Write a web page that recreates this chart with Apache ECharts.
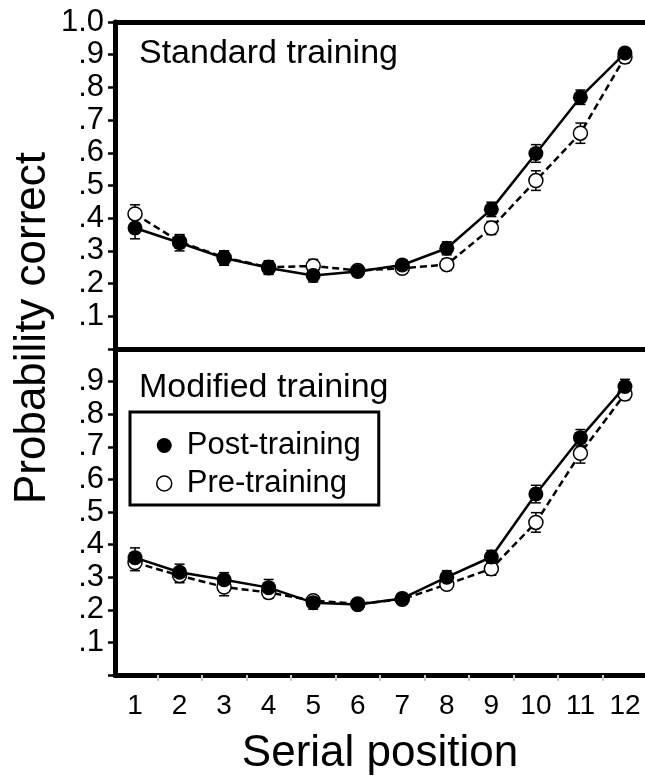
<!DOCTYPE html>
<html>
<head>
<meta charset="utf-8">
<script src="https://cdn.jsdelivr.net/npm/echarts@6/dist/echarts.min.js"></script>
<style>html,body{margin:0;padding:0;background:#fff;}#c{width:645px;height:781px;}</style>
</head>
<body>
<div id="c"></div>
<script>
const positions = [1,2,3,4,5,6,7,8,9,10,11,12];
const xHalfTicks = [1.5,2.5,3.5,4.5,5.5,6.5,7.5,8.5,9.5,10.5,11.5];
const yTickLabelsTop = ['', '.1', '.2', '.3', '.4', '.5', '.6', '.7', '.8', '.9', '1.0'];
const yTickLabelsBottom = ['', '.1', '.2', '.3', '.4', '.5', '.6', '.7', '.8', '.9', ''];

// Standard training
const stdPost    = [0.370,0.325,0.278,0.248,0.225,0.237,0.257,0.308,0.427,0.598,0.770,0.905];
const stdPostErr = [0.033,0.025,0.022,0.020,0.020,0.015,0.015,0.020,0.022,0.027,0.022,0.015];
const stdPre     = [0.413,0.328,0.280,0.250,0.254,0.240,0.247,0.258,0.370,0.515,0.660,0.893];
const stdPreErr  = [0.028,0.020,0.020,0.020,0.020,0.015,0.015,0.018,0.020,0.030,0.031,0.018];

// Modified training
const modPost    = [0.360,0.315,0.292,0.268,0.222,0.216,0.235,0.300,0.362,0.555,0.728,0.885];
const modPostErr = [0.030,0.025,0.022,0.025,0.020,0.015,0.015,0.020,0.020,0.027,0.025,0.022];
const modPre     = [0.345,0.305,0.270,0.253,0.228,0.218,0.232,0.278,0.326,0.468,0.680,0.862];
const modPreErr  = [0.025,0.022,0.027,0.018,0.015,0.012,0.012,0.015,0.020,0.030,0.030,0.018];

const FONT = "'Liberation Sans', Arial, Helvetica, sans-serif";

function pts(vals){ return vals.map((v,i)=>[positions[i], v]); }
function errs(vals, e){ return vals.map((v,i)=>[positions[i], v, e[i]]); }

function errorRender(params, api){
  const x = api.value(0), y = api.value(1), e = api.value(2);
  const t = api.coord([x, y + e]);
  const b = api.coord([x, y - e]);
  const w = 5;
  const st = {stroke:'#000', lineWidth:1.5};
  return {type:'group', children:[
    {type:'line', shape:{x1:t[0], y1:t[1], x2:b[0], y2:b[1]}, style:st},
    {type:'line', shape:{x1:t[0]-w, y1:t[1], x2:t[0]+w, y2:t[1]}, style:st},
    {type:'line', shape:{x1:b[0]-w, y1:b[1], x2:b[0]+w, y2:b[1]}, style:st}
  ]};
}

function yAxisFor(idx, labels){
  return {
    type:'value', gridIndex:idx, min:0, max:1, interval:0.1,
    axisLine:{show:true, onZero:false, lineStyle:{color:'#000', width:5}},
    axisTick:{show:true, length:7, lineStyle:{color:'#000', width:2.5}},
    splitLine:{show:false},
    axisLabel:{
      margin:11, color:'#000', fontSize:31, fontFamily:FONT,
      showMinLabel:true, showMaxLabel:true,
      formatter:function(v){ const k = Math.round(v*10); return labels[k] !== undefined ? labels[k] : ''; }
    }
  };
}

function borderAxis(idx, pos){
  return {type:'value', gridIndex:idx, position:pos, min:0.55, max:12.45,
    axisLine:{show:true, onZero:false, lineStyle:{color:'#000', width:5}},
    axisTick:{show:false}, axisLabel:{show:false}, splitLine:{show:false}};
}

const lineSeries = function(name, data, xi, yi, dashed, filled){
  return {
    name:name, type:'line', xAxisIndex:xi, yAxisIndex:yi, data:data,
    symbol:'circle', symbolSize: filled ? 15 : 14,
    itemStyle:{color: filled ? '#000' : '#fff', borderColor:'#000', borderWidth: filled ? 0 : 1.5},
    lineStyle:{color:'#000', width:2.5, type: dashed ? [7,4] : 'solid'},
    z: filled ? 5 : 4, animation:false, emphasis:{disabled:true}
  };
};
const errSeries = function(name, data, xi, yi){
  return {
    name:name, type:'custom', xAxisIndex:xi, yAxisIndex:yi, data:data,
    renderItem:errorRender, encode:{x:0, y:1}, z:3, animation:false, silent:true
  };
};

const chart = echarts.init(document.getElementById('c'), null, {renderer:'canvas'});
chart.setOption({
  animation:false,
  backgroundColor:'#fff',
  textStyle:{fontFamily:FONT},
  title:[
    {text:'Standard training', left:134, top:32, textStyle:{fontSize:34, fontWeight:'normal', color:'#000', fontFamily:FONT}},
    {text:'Modified training', left:134, top:366, textStyle:{fontSize:34, fontWeight:'normal', color:'#000', fontFamily:FONT}}
  ],
  grid:[
    {left:115, top:22, width:532, height:327, show:false},
    {left:115, top:349, width:532, height:326, show:false}
  ],
  xAxis:[
    borderAxis(0, 'bottom'),
    borderAxis(0, 'top'),
    {type:'value', gridIndex:1, position:'bottom', min:0.55, max:12.45,
      name:'Serial position', nameLocation:'middle', nameGap:57,
      nameTextStyle:{fontSize:44, color:'#000', fontFamily:FONT},
      axisLine:{show:true, onZero:false, lineStyle:{color:'#000', width:5}},
      axisTick:{show:true, length:6, customValues:xHalfTicks, lineStyle:{color:'#c8c8c8', width:2}},
      axisLabel:{show:true, customValues:positions, margin:17, color:'#000', fontSize:28, fontFamily:FONT},
      splitLine:{show:false}}
  ],
  yAxis:[ yAxisFor(0, yTickLabelsTop), yAxisFor(1, yTickLabelsBottom) ],
  legend:{
    orient:'vertical', left:130, top:412,
    data:[
      {name:'Post-training', icon:'circle', itemStyle:{color:'#000', borderWidth:0}},
      {name:'Pre-training', icon:'circle', itemStyle:{color:'#fff', borderColor:'#000', borderWidth:1.5}}
    ],
    itemWidth:15, itemHeight:15, itemGap:7, itemTextGap:5,
    padding:[18,18,6,26],
    borderColor:'#000', borderWidth:3, backgroundColor:'#fff',
    selectedMode:false,
    textStyle:{fontSize:31, color:'#000', fontFamily:FONT, padding:[0,0,0,10]}
  },
  graphic:[
    {type:'text', x:33, y:328, rotation:Math.PI/2,
      style:{text:'Probability correct', fontSize:44, fill:'#000', fontFamily:FONT, align:'center', verticalAlign:'middle'}}
  ],
  series:[
    errSeries('Pre-training', errs(stdPre, stdPreErr), 0, 0),
    errSeries('Post-training', errs(stdPost, stdPostErr), 0, 0),
    lineSeries('Pre-training', pts(stdPre), 0, 0, true, false),
    lineSeries('Post-training', pts(stdPost), 0, 0, false, true),
    errSeries('Pre-training', errs(modPre, modPreErr), 2, 1),
    errSeries('Post-training', errs(modPost, modPostErr), 2, 1),
    lineSeries('Pre-training', pts(modPre), 2, 1, true, false),
    lineSeries('Post-training', pts(modPost), 2, 1, false, true)
  ]
});
</script>
</body>
</html>
